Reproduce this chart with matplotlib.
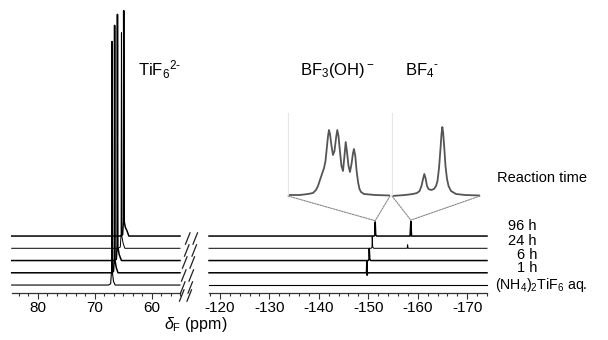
import matplotlib
matplotlib.use("Agg")
import matplotlib.pyplot as plt
from matplotlib.ticker import MultipleLocator
from matplotlib.patches import ConnectionPatch
from matplotlib.path import Path

plt.rcParams["font.family"] = ["Liberation Sans", "DejaVu Sans"]
plt.rcParams["mathtext.fontset"] = "custom"
plt.rcParams["mathtext.rm"] = "Liberation Sans"
plt.rcParams["mathtext.it"] = "Liberation Sans:italic"
plt.rcParams["axes.unicode_minus"] = False

# sample labels, bottom -> top
labels = ["(NH$_4$)$_2$TiF$_6$ aq.", "1 h", "6 h", "24 h", "96 h"]

# TiF6(2-) region (ppm, intensity) for each trace, bottom -> top
left_x = [
    [84.6, 67.6, 67.2, 67.03, 66.96, 66.88, 66.7, 66.4, 55.0],
    [84.6, 67.1, 66.7, 66.56, 66.5, 66.43, 66.2, 65.9, 55.0],
    [84.6, 66.6, 66.2, 66.06, 66.0, 65.93, 65.7, 65.3, 55.0],
    [84.6, 65.9, 65.5, 65.36, 65.3, 65.23, 65.0, 64.7, 55.0],
    [84.6, 65.5, 65.1, 64.96, 64.9, 64.83, 64.6, 64.3, 64.0, 55.0],
]
left_y = [
    [0, 0, 0.1, 1.2, 19.9, 1.0, 0.3, 0, 0],
    [0, 0, 0.1, 1.2, 20.2, 1.0, 0.4, 0, 0],
    [0, 0, 0.1, 1.2, 20.1, 1.1, 0.5, 0, 0],
    [0, 0, 0.1, 1.2, 17.6, 1.0, 0.4, 0, 0],
    [0, 0, 0.1, 1.2, 18.4, 1.2, 0.7, 0.4, 0, 0],
]

# BF3(OH)- / BF4- region
right_x = [
    [-117.8, -174.0],
    [-117.8, -149.5, -149.65, -149.7, -149.75, -149.9, -174.0],
    [-117.8, -150.0, -150.15, -150.2, -150.3, -150.5, -174.0],
    [-117.8, -150.6, -150.75, -150.8, -150.9, -151.1, -157.85, -157.95, -158.05, -174.0],
    [-117.8, -151.2, -151.35, -151.4, -151.5, -151.7, -158.45, -158.6, -158.75, -174.0],
]
right_y = [
    [0, 0],
    [0, 0, 0.1, 0.95, -0.2, 0, 0],
    [0, 0, 0.1, 0.98, 0.1, 0, 0],
    [0, 0, 0.1, 0.98, 0.1, 0, 0, 0.3, 0, 0],
    [0, 0, 0.1, 1.15, 0.1, 0, 0, 1.2, 0, 0],
]
line_w = [0.8, 1.1, 1.1, 0.7, 1.1]

# expanded view of the 96 h spectrum
inset1_x = [-150.800, -150.941, -151.035, -151.094, -151.129, -151.153, -151.176,
            -151.200, -151.224, -151.241, -151.259, -151.271, -151.282, -151.294,
            -151.312, -151.329, -151.347, -151.365, -151.380, -151.394, -151.412,
            -151.429, -151.447, -151.462, -151.479, -151.494, -151.512, -151.529,
            -151.547, -151.565, -151.576, -151.592, -151.606, -151.624, -151.641,
            -151.659, -151.694, -151.824, -152.000]
inset1_y = [1, 1, 2, 3, 6, 10, 16, 22, 28, 35, 50, 60, 66, 62, 50, 41, 45, 58, 66, 60,
            44, 30, 25, 38, 54, 44, 30, 24, 32, 43, 47, 40, 26, 14, 7, 4, 2, 1, 0.5]
inset2_x = [-157.600, -157.753, -157.847, -157.894, -157.924, -157.947, -157.965,
            -157.980, -157.994, -158.012, -158.029, -158.059, -158.094, -158.118,
            -158.135, -158.153, -158.171, -158.182, -158.192, -158.202, -158.215,
            -158.229, -158.247, -158.265, -158.294, -158.353, -158.459, -158.635]
inset2_y = [0, 1, 2, 3, 5, 10, 17, 22, 18, 10, 7, 6, 7, 10, 15, 28, 48, 62, 69, 63,
            48, 30, 17, 10, 5, 2, 1, 0.5]

W, H = 608, 340
fig = plt.figure(figsize=(W / 100, H / 100), dpi=100)


def px_rect(x0, y0, x1, y1):
    return [x0 / W, 1 - y1 / H, (x1 - x0) / W, (y1 - y0) / H]


ax1 = fig.add_axes(px_rect(11.7, 0, 180, 293))
ax2 = fig.add_axes(px_rect(209, 0, 487, 293))

for i in range(len(labels)):
    ax1.plot(left_x[i], [v + i for v in left_y[i]], color="black", lw=line_w[i], clip_on=False)
    ax2.plot(right_x[i], [v + i for v in right_y[i]], color="black", lw=line_w[i], clip_on=False)

ax1.set_xlim(84.6, 55.0)
ax2.set_xlim(-117.8, -174.0)
ax1.xaxis.set_major_locator(MultipleLocator(10))
ax1.xaxis.set_minor_locator(MultipleLocator(10 / 6))
ax2.xaxis.set_major_locator(MultipleLocator(10))
ax2.xaxis.set_minor_locator(MultipleLocator(2))

for ax in (ax1, ax2):
    ax.set_ylim(-0.65, 23.27)
    ax.patch.set_alpha(0)
    for s in ("top", "left", "right"):
        ax.spines[s].set_visible(False)
    ax.spines["bottom"].set_linewidth(0.9)
    ax.spines["bottom"].set_color("#333333")
    ax.set_yticks([])
    ax.tick_params(axis="x", which="major", direction="out", length=4, width=0.8,
                   color="#333333", labelsize=11, pad=2)
    ax.tick_params(axis="x", which="minor", direction="out", length=2.5, width=0.8,
                   color="#333333")

# axis break marks (double slash marker)
brk = Path([(-1.0, -1.0), (-0.2, 1.0), (0.2, -1.0), (1.0, 1.0)],
           [Path.MOVETO, Path.LINETO, Path.MOVETO, Path.LINETO])
brk_y = [-0.85] + [i - 0.15 for i in range(len(labels))]
brk_x = [-0.085] + [-0.062 - 0.004 * (len(labels) - i) for i in range(len(labels))]
ax2.plot(brk_x, brk_y, linestyle="none", marker=brk, markersize=9, markeredgewidth=0.9,
         markeredgecolor="#222222", markerfacecolor="none",
         transform=ax2.get_yaxis_transform(), clip_on=False)

# insets
in1 = fig.add_axes(px_rect(288, 113, 390, 197))
in2 = fig.add_axes(px_rect(392, 113, 480, 197))
in1.plot(inset1_x, inset1_y, color="#555555", lw=1.3)
in2.plot(inset2_x, inset2_y, color="#555555", lw=1.3)
in1.set_xlim(inset1_x[0], inset1_x[-1])
in2.set_xlim(inset2_x[0], inset2_x[-1])
for ax in (in1, in2):
    ax.set_ylim(-1, 83)
    ax.patch.set_alpha(0)
    ax.set_xticks([])
    ax.set_yticks([])
    for s in ("top", "bottom", "right"):
        ax.spines[s].set_visible(False)
    ax.spines["left"].set_color("#e6e6e6")
    ax.spines["left"].set_linewidth(0.8)

# dotted guides from inset to the 96 h peaks
top = len(labels) - 1
targets = [(in1, inset1_x, right_x[top][3], right_y[top][3] + top),
           (in2, inset2_x, right_x[top][7], right_y[top][7] + top)]
for ax_in, xs, px_, py_ in targets:
    for xe in (xs[0], xs[-1]):
        con = ConnectionPatch(xyA=(xe, 0), coordsA=ax_in.transData,
                              xyB=(px_, py_ + 0.1), coordsB=ax2.transData,
                              color="#888888", lw=0.8, linestyle=(0, (1.5, 1)))
        fig.add_artist(con)

# labels
fig.text(138 / W, 1 - 70 / H, "TiF$_6$$^{2\u2010}$", fontsize=12, ha="left", va="center")
fig.text(300 / W, 1 - 71 / H, "BF$_3$(OH)$^-$", fontsize=12, ha="left", va="center")
fig.text(405 / W, 1 - 71 / H, "BF$_4$$^{\u2010}$", fontsize=12, ha="left", va="center")
fig.text(497 / W, 1 - 178 / H, "Reaction time", fontsize=10.5, ha="left", va="center")

label_y = [284.5, 268.5, 255, 241, 226]
for i, lab in enumerate(labels):
    if i == 0:
        fig.text(495 / W, 1 - label_y[i] / H, lab, fontsize=10.2, ha="left", va="center")
    else:
        fig.text(537 / W, 1 - label_y[i] / H, lab, fontsize=10.5, ha="right", va="center")

fig.text(196 / W, 1 - 325 / H, r"$\delta_{\rm F}$ (ppm)", fontsize=11.5, ha="center", va="center")

fig.savefig("out.png", dpi=100)
